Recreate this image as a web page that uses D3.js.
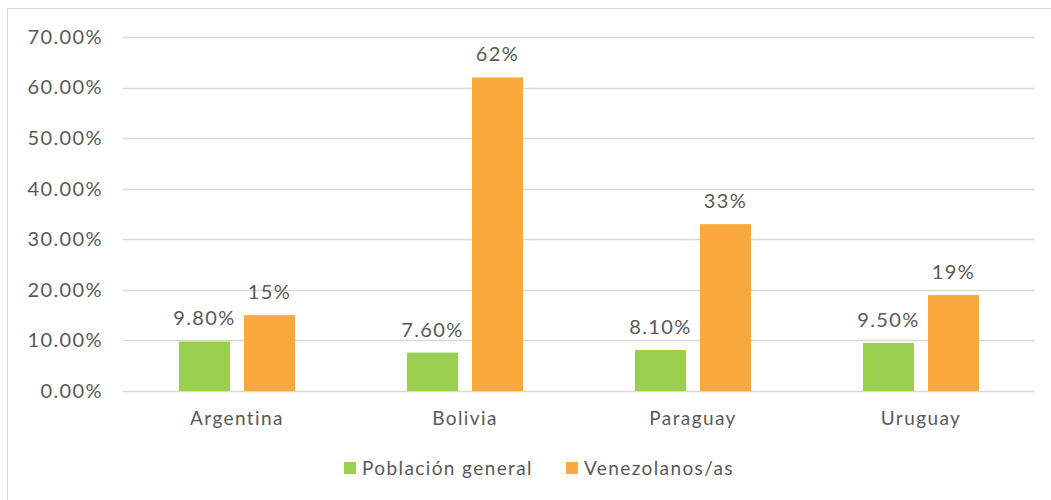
<!DOCTYPE html>
<html>
<head>
<meta charset="utf-8">
<script src="https://cdn.jsdelivr.net/npm/d3@7"></script>
<style>
  body { margin: 0; background: #fff; }
  text { font-family: "Century Gothic", Lato, "Open Sans", sans-serif; fill: #595959; letter-spacing: 1.4px; }
</style>
</head>
<body>
<svg id="chart" width="1051" height="500"></svg>
<script>
const categories = ["Argentina", "Bolivia", "Paraguay", "Uruguay"];
const seriesNames = ["Población general", "Venezolanos/as"];
const poblacionGeneral = [9.8, 7.6, 8.1, 9.5];
const venezolanos = [15, 62, 33, 19];
const generalLabels = ["9.80%", "7.60%", "8.10%", "9.50%"];
const venezolanosLabels = ["15%", "62%", "33%", "19%"];
const yTicks = [0, 10, 20, 30, 40, 50, 60, 70];
const colors = ["#9BCF4E", "#F9A93D"];

const svg = d3.select("#chart");

// outer chart border
svg.append("rect")
  .attr("x", 7.5).attr("y", 8.5)
  .attr("width", 1060).attr("height", 500)
  .attr("fill", "none").attr("stroke", "#d9d9d9").attr("stroke-width", 1);

const plot = { left: 123, right: 1035, top: 37, bottom: 391 };

const x = d3.scaleBand().domain(categories).range([plot.left, plot.right]);
const x1 = d3.scaleBand().domain([0, 1]).range([0, 116]).paddingInner(0.215);
const y = d3.scaleLinear().domain([0, 70]).range([plot.bottom, plot.top]);

// gridlines
svg.append("g")
  .selectAll("line")
  .data(yTicks)
  .join("line")
  .attr("x1", plot.left).attr("x2", plot.right)
  .attr("y1", d => Math.round(y(d)) + 0.5).attr("y2", d => Math.round(y(d)) + 0.5)
  .attr("stroke", "#d9d9d9").attr("stroke-width", 1.5);

// y axis labels
const yAxis = d3.axisLeft(y).tickValues(yTicks).tickSize(0).tickPadding(0)
  .tickFormat(d => d.toFixed(2) + "%");
svg.append("g")
  .attr("transform", `translate(${plot.left - 20},0)`)
  .call(yAxis)
  .call(g => g.select(".domain").remove())
  .selectAll("text")
  .attr("font-size", 20)
  .attr("fill", "#595959")
  .attr("font-family", null);

// x axis labels
const xAxis = d3.axisBottom(x).tickSize(0).tickPadding(0);
svg.append("g")
  .attr("transform", `translate(0,${plot.bottom + 20})`)
  .call(xAxis)
  .call(g => g.select(".domain").remove())
  .selectAll("text")
  .attr("font-size", 19)
  .attr("dy", "0.75em")
  .attr("fill", "#595959")
  .attr("font-family", null);

const series = [poblacionGeneral, venezolanos];
const labels = [generalLabels, venezolanosLabels];

series.forEach((vals, s) => {
  const g = svg.append("g");
  const groupOffset = c => x(c) + (x.bandwidth() - 116) / 2;
  g.selectAll("rect")
    .data(categories)
    .join("rect")
    .attr("x", c => groupOffset(c) + x1(s))
    .attr("y", (c, i) => y(vals[i]))
    .attr("width", x1.bandwidth())
    .attr("height", (c, i) => plot.bottom - y(vals[i]))
    .attr("fill", colors[s]);

  g.selectAll("text")
    .data(categories)
    .join("text")
    .attr("x", c => groupOffset(c) + x1(s) + x1.bandwidth() / 2)
    .attr("y", (c, i) => y(vals[i]) - 16)
    .attr("text-anchor", "middle")
    .attr("font-size", 20)
    .text((c, i) => labels[s][i]);
});

// legend
const legendX = [344, 566];
const legend = svg.append("g");
seriesNames.forEach((name, i) => {
  legend.append("rect")
    .attr("x", legendX[i]).attr("y", 462)
    .attr("width", 12).attr("height", 12)
    .attr("fill", colors[i]);
  legend.append("text")
    .attr("x", legendX[i] + 18).attr("y", 475)
    .attr("font-size", 19)
    .text(name);
});
</script>
</body>
</html>
